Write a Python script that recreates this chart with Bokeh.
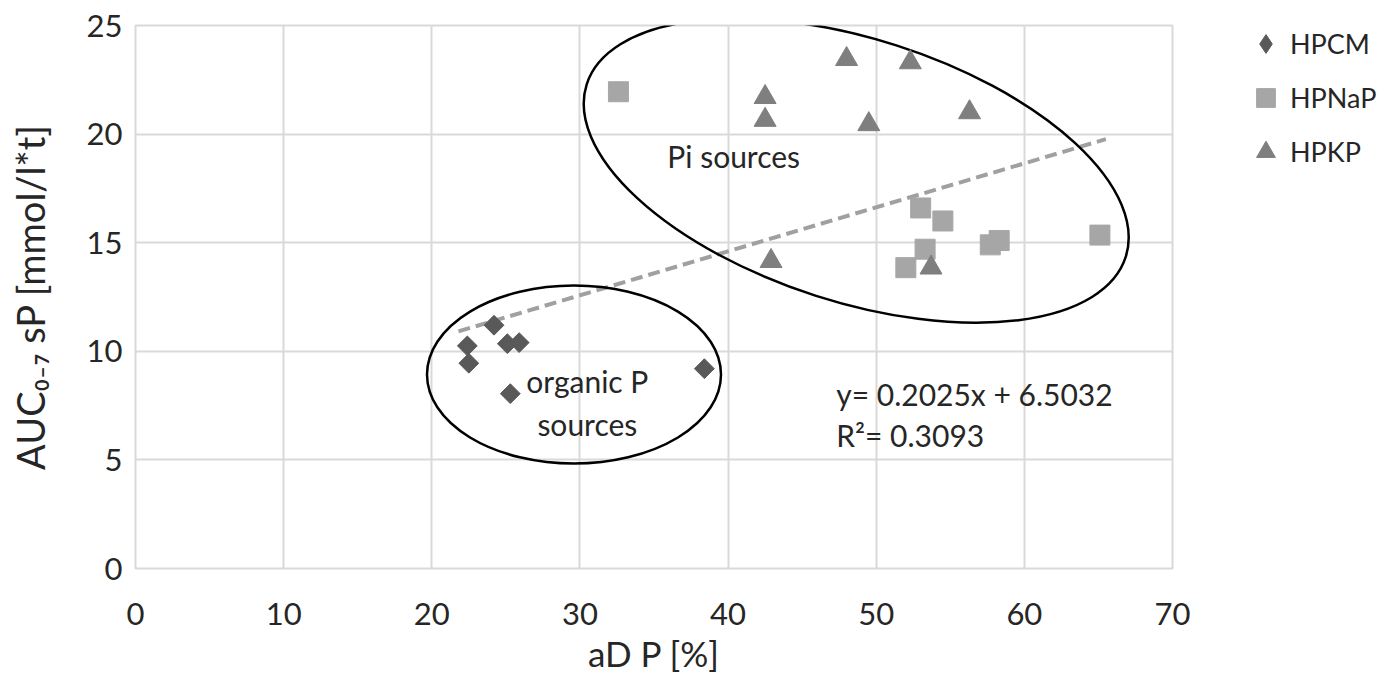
import math
from bokeh.plotting import figure
from bokeh.models import FixedTicker, Legend, LegendItem
from bokeh.core.properties import value
from bokeh.embed import file_html
from bokeh.resources import INLINE

# ---- data ----
hpcm_x = [22.4, 22.5, 24.2, 25.1, 25.9, 25.3, 38.4]
hpcm_y = [10.25, 9.45, 11.2, 10.35, 10.4, 8.05, 9.2]

hpnap_x = [32.6, 53.0, 54.5, 53.3, 52.0, 57.7, 58.3, 65.1]
hpnap_y = [21.95, 16.6, 16.0, 14.7, 13.85, 14.9, 15.1, 15.35]

hpkp_x = [48.0, 52.3, 42.5, 42.5, 49.5, 56.3, 42.9, 53.7]
hpkp_y = [23.45, 23.3, 21.7, 20.65, 20.45, 21.0, 14.15, 13.85]

trend_slope = 0.2025
trend_intercept = 6.5032
trend_r2 = 0.3093
trend_x = [21.8, 65.5]

x_ticks = [0, 10, 20, 30, 40, 50, 60, 70]
y_ticks = [0, 5, 10, 15, 20, 25]

FONT = "Lato"
TXT = "#262626"
GRID = "#d9d9d9"

p = figure(
    frame_width=1037, frame_height=543,
    x_range=(0, 70), y_range=(0, 25),
    output_backend="svg", toolbar_location=None,
    min_border_left=135, min_border_top=25, min_border_right=206,
    min_border_bottom=10,
)
p.background_fill_color = "white"
p.border_fill_color = "white"
p.outline_line_color = GRID
p.outline_line_width = 2

p.xaxis.ticker = FixedTicker(ticks=x_ticks)
p.yaxis.ticker = FixedTicker(ticks=y_ticks)
p.xgrid.ticker = FixedTicker(ticks=x_ticks)
p.ygrid.ticker = FixedTicker(ticks=y_ticks)
for g in (p.xgrid, p.ygrid):
    g.grid_line_color = GRID
    g.grid_line_width = 2

for ax in (p.xaxis, p.yaxis):
    ax.axis_line_color = None
    ax.major_tick_line_color = None
    ax.minor_tick_line_color = None
    ax.major_tick_out = 0
    ax.major_tick_in = 0
    ax.major_label_text_font = FONT
    ax.major_label_text_font_size = "31px"
    ax.major_label_text_color = TXT
    ax.axis_label_text_font = FONT
    ax.axis_label_text_font_style = "normal"
    ax.axis_label_text_color = TXT

p.xaxis.axis_label = "aD P [%]"
p.xaxis.axis_label_text_font_size = "35px"
p.xaxis.major_label_standoff = 34
p.xaxis.axis_label_standoff = 4

p.yaxis.axis_label = "AUC\u2080\u208b\u2087 sP [mmol/l*t]"
p.yaxis.axis_label_text_font_size = "38px"
p.yaxis.major_label_standoff = 13
p.yaxis.axis_label_standoff = 31

# trend line
trend_y = [trend_slope * x + trend_intercept for x in trend_x]
p.line(trend_x, trend_y, line_color="#a0a0a0", line_width=4, line_dash="12 6")

# ellipses (annotations)
p.ellipse(x=[48.65], y=[18.32], width=[566], height=[263], angle=[-0.31],
          width_units="screen", height_units="screen",
          fill_color=None, line_color="black", line_width=2.5)
p.ellipse(x=[29.6], y=[8.93], width=[294], height=[178], angle=[0.0],
          width_units="screen", height_units="screen",
          fill_color=None, line_color="black", line_width=2.5)

r_cm = p.scatter(hpcm_x, hpcm_y, marker="square", size=14, angle=math.pi / 4,
                 fill_color="#595959", line_color="#595959")
r_na = p.scatter(hpnap_x, hpnap_y, marker="square", size=20,
                 fill_color="#a6a6a6", line_color="#a6a6a6")
r_kp = p.scatter(hpkp_x, hpkp_y, marker="triangle", size=22,
                 fill_color="#7f7f7f", line_color="#7f7f7f")
# legend-only diamond (zero size in the plot, the legend sizes its own glyph)
r_cm_leg = p.scatter(hpcm_x, hpcm_y, marker="diamond", size=0,
                     fill_color="#595959", line_color="#595959")

# text annotations
p.text(x=[35.9], y=[18.98], text=["Pi sources"], text_font=value(FONT),
       text_font_size="30px", text_color=TXT, text_baseline="alphabetic", text_align="left")
p.text(x=[30.5, 30.5], y=[8.62, 6.64], text=["organic P", "sources"], text_font=value(FONT),
       text_font_size="30px", text_color=TXT, text_baseline="alphabetic", text_align="center")
p.text(x=[47.3, 47.3], y=[8.05, 6.14],
       text=[f"y= {trend_slope}x + {trend_intercept}", f"R\u00b2= {trend_r2}"],
       text_font=value(FONT), text_font_size="30px", text_color=TXT,
       text_baseline="alphabetic", text_align="left")

legend = Legend(items=[
    LegendItem(label="HPCM", renderers=[r_cm_leg]),
    LegendItem(label="HPNaP", renderers=[r_na]),
    LegendItem(label="HPKP", renderers=[r_kp]),
], location=(70, 393))
legend.glyph_width = 47
legend.glyph_height = 47
legend.spacing = 7
legend.padding = 0
legend.margin = 0
legend.label_standoff = 1
legend.label_text_font = FONT
legend.label_text_font_size = "27px"
legend.label_text_color = TXT
legend.border_line_color = None
legend.background_fill_alpha = 0
p.add_layout(legend, "right")

open("out.html", "w").write(file_html(p, INLINE))
